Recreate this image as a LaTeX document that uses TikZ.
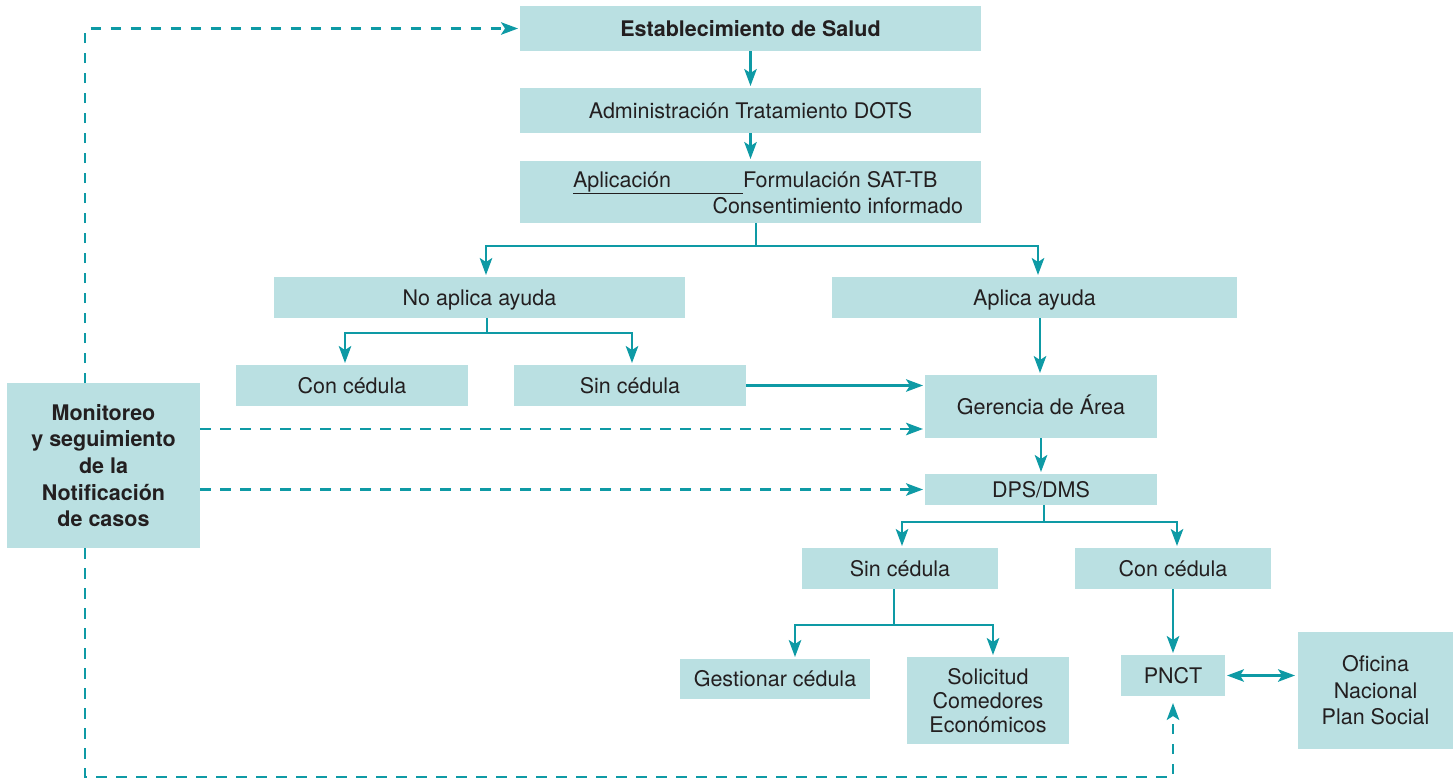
\documentclass[tikz,border=0pt]{standalone}
\usepackage{fontspec}
\setmainfont{TeX Gyre Heros}
\usetikzlibrary{arrows.meta,calc}
\definecolor{boxfill}{HTML}{BAE0E2}
\definecolor{linec}{HTML}{0E9AA5}
\definecolor{txt}{HTML}{231F20}
\begin{document}
\begin{tikzpicture}[x=1pt,y=-1pt,
  box/.style={fill=boxfill, draw=none, inner sep=0pt, outer sep=0pt, align=center, text=txt,
    font=\fontsize{21.5}{26.5}\selectfont},
  one/.style={box, text height=15.5pt, text depth=0pt},
  plain/.style={inner sep=0pt, outer sep=0pt, text=txt, font=\fontsize{21.5}{26.5}\selectfont},
  tip/.tip={Stealth[length=17pt,width=12.5pt,inset=4pt]},
  conn/.style={draw=linec, line width=2.3pt},
  arr/.style={conn, -tip, shorten >=2pt},
  dblarr/.style={conn, tip-tip},
  dashline/.style={draw=linec, line width=2.3pt, dash pattern=on 10.5pt off 9.5pt},
  darr/.style={dashline, -tip, shorten >=2pt}
]
\useasboundingbox (0,0) rectangle (1453,779);

% boxes
\node[one, minimum width=461pt, minimum height=45pt, font=\fontsize{21.5}{26.5}\selectfont\bfseries] (est) at (750.5,28.5) {Establecimiento de Salud};
\node[one, minimum width=461pt, minimum height=45pt] (adm) at (750.5,110.5) {Administración Tratamiento DOTS};
\node[box, minimum width=461pt, minimum height=62pt] (apl) at (750.5,192) {};
\node[plain, anchor=base west] (apl1) at (573,187) {\underline{\makebox[170pt][l]{Aplicación}}Formulación SAT-TB};
\node[plain, anchor=base east] (apl2) at (963,213) {Consentimiento informado};
\node[one, minimum width=411pt, minimum height=41pt] (noap) at (479.5,297.5) {No aplica ayuda};
\node[one, minimum width=405pt, minimum height=41pt] (ap) at (1034.5,297.5) {Aplica ayuda};
\node[one, minimum width=232pt, minimum height=41pt] (con1) at (352,385.5) {Con cédula};
\node[one, minimum width=232pt, minimum height=41pt] (sin1) at (630,385.5) {Sin cédula};
\node[one, minimum width=232pt, minimum height=63pt] (ger) at (1041,406.5) {Gerencia de Área};
\node[one, minimum width=232pt, minimum height=31pt] (dps) at (1041,489.5) {DPS/DMS};
\node[one, minimum width=196pt, minimum height=41pt] (sin2) at (900,568.5) {Sin cédula};
\node[one, minimum width=196pt, minimum height=41pt] (con2) at (1173,568.5) {Con cédula};
\node[one, minimum width=190pt, minimum height=40pt] (gest) at (775,679) {Gestionar cédula};
\node[box, minimum width=162pt, minimum height=87pt, font=\fontsize{21.5}{24}\selectfont] (sol) at (988,700.5) {Solicitud\\Comedores\\Económicos};
\node[one, minimum width=104pt, minimum height=41pt] (pnct) at (1173,675.5) {PNCT};
\node[box, minimum width=155pt, minimum height=117pt] (of) at (1375.5,690.5) {Oficina\\Nacional\\Plan Social};
\node[box, minimum width=193pt, minimum height=165pt, font=\fontsize{21.5}{26.7}\selectfont\bfseries] (mon) at (103.5,465.5) {Monitoreo\\y seguimiento\\de la\\Notificación\\de casos};

% solid connectors
\draw[arr] (est.south) -- (adm.north);
\draw[arr] (adm.south) -- (apl.north);

\coordinate (b1) at (756,246);
\draw[conn] (apl.south -| b1) -- (b1);
\draw[arr] (b1) -| ([xshift=6.5pt]noap.north);
\draw[arr] (b1) -| ([xshift=3.5pt]ap.north);

\coordinate (b2) at (487,333);
\draw[conn] (noap.south -| b2) -- (b2);
\draw[arr] (b2) -| ([xshift=-7pt]con1.north);
\draw[arr] (b2) -| ([xshift=2pt]sin1.north);

\draw[arr] (sin1.east) -- (sin1.east -| ger.west);
\draw[arr] ([xshift=5.5pt]ap.south) -- ([xshift=5.5pt]ap.south |- ger.north);
\draw[arr] (ger.south) -- (dps.north);

\coordinate (b4) at (1044,522);
\draw[conn] (dps.south -| b4) -- (b4);
\draw[arr] (b4) -| ([xshift=2pt]sin2.north);
\draw[arr] (b4) -| ([xshift=4pt]con2.north);

\coordinate (b5) at (894,625);
\draw[conn] (sin2.south -| b5) -- (b5);
\draw[arr] (b5) -| ([xshift=20pt]gest.north);
\draw[arr] (b5) -| ([xshift=5pt]sol.north);

\draw[arr] (con2.south) -- (pnct.north);
\draw[dblarr, shorten <=2pt, shorten >=3pt] (pnct.east) -- (pnct.east -| of.west);

% dashed connectors
\draw[darr] ([xshift=-18.5pt]mon.north) |- (est.west);
\coordinate (g1) at ([yshift=-22.5pt]ger.west);
\draw[darr] (mon.east |- g1) -- (g1);
\draw[darr] (mon.east |- dps.west) -- (dps.west);
\coordinate (c1) at (85,777);
\draw[darr, shorten >=7pt] ([xshift=-18.5pt]mon.south) -- (c1) -| (pnct.south);
\end{tikzpicture}
\end{document}
